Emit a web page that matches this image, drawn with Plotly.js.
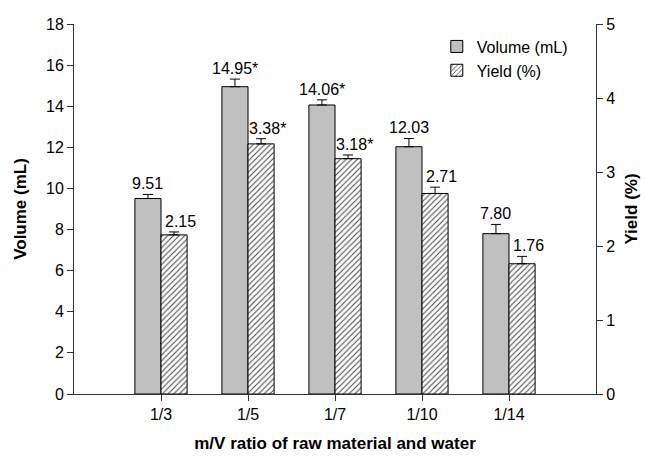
<!DOCTYPE html>
<html>
<head>
<meta charset="utf-8">
<script src="https://cdn.plot.ly/plotly-3.0.1.min.js"></script>
<style>html,body{margin:0;padding:0;background:#fff;}#chart{width:646px;height:460px;}</style>
</head>
<body>
<div id="chart"></div>
<script>
var categories = ["1/3", "1/5", "1/7", "1/10", "1/14"];
var volume = [9.51, 14.95, 14.06, 12.03, 7.80];
var volumeErr = [0.2, 0.37, 0.25, 0.4, 0.45];
var volumeLabels = ["9.51", "14.95*", "14.06*", "12.03", "7.80"];
var yieldPct = [2.15, 3.38, 3.18, 2.71, 1.76];
var yieldErr = [0.04, 0.07, 0.05, 0.085, 0.1];
var yieldLabels = ["2.15", "3.38*", "3.18*", "2.71", "1.76"];

var xpos = categories.map(function(c, i){ return i; });
var fam = "Liberation Sans, Arial, sans-serif";
var tickFont = {family: fam, size: 16, color: "#000"};
var labFont = {family: fam, size: 16, color: "#000"};
var titleFont = {family: fam, size: 17, color: "#000"};

var traces = [
  {
    type: "bar", name: "Volume (mL)", x: xpos, y: volume,
    width: 0.3, offset: -0.3, yaxis: "y",
    marker: {color: "#c0c0c0", line: {color: "#000", width: 1}},
    error_y: {type: "data", array: volumeErr, arrayminus: volume.map(function(){return 0;}), color: "#000", thickness: 1, width: 5}
  },
  {
    type: "bar", name: "Yield (%)", x: xpos, y: yieldPct,
    width: 0.3, offset: 0, yaxis: "y2",
    marker: {color: "#fff", line: {color: "#000", width: 1},
      pattern: {shape: "/", fgcolor: "#444", bgcolor: "#fff", size: 4, solidity: 0.25}},
    error_y: {type: "data", array: yieldErr, arrayminus: yieldPct.map(function(){return 0;}), color: "#000", thickness: 1, width: 5}
  }
];

var annotations = [];
xpos.forEach(function(x, i){
  annotations.push({x: x - 0.15, y: volume[i] + volumeErr[i], xref: "x", yref: "y",
    text: volumeLabels[i], showarrow: false, yanchor: "bottom", xanchor: "center", yshift: 0, font: labFont});
  annotations.push({x: x + 0.15, y: yieldPct[i] + yieldErr[i], xref: "x", yref: "y2",
    text: yieldLabels[i], showarrow: false, yanchor: "bottom", xanchor: "center", xshift: 6, yshift: 0, font: labFont});
});

var layout = {
  width: 646, height: 460,
  margin: {l: 74, r: 50, t: 24, b: 66},
  paper_bgcolor: "#fff", plot_bgcolor: "#fff",
  font: tickFont,
  showlegend: true,
  legend: {x: 0.695, y: 0.985, xanchor: "left", yanchor: "top", bgcolor: "rgba(0,0,0,0)", font: tickFont, tracegroupgap: 0},
  xaxis: {
    range: [-1, 5], tickmode: "array", tickvals: xpos, ticktext: categories,
    showline: true, linecolor: "#333", linewidth: 1, ticks: "outside", ticklen: 6, tickcolor: "#333",
    showgrid: false, zeroline: false, tickfont: tickFont,
    title: {text: "<b>m/V ratio of raw material and water</b>", font: titleFont, standoff: 14}
  },
  yaxis: {
    range: [0, 18], dtick: 2, showline: true, linecolor: "#333", linewidth: 1,
    ticks: "outside", ticklen: 6, tickcolor: "#333", showgrid: false, zeroline: false, tickfont: tickFont,
    title: {text: "<b>Volume (mL)</b>", font: titleFont, standoff: 15}
  },
  yaxis2: {
    range: [0, 5], dtick: 1, overlaying: "y", side: "right", showline: true, linecolor: "#333", linewidth: 1,
    ticks: "outside", ticklen: 6, tickcolor: "#333", showgrid: false, zeroline: false, tickfont: tickFont,
    title: {text: "<b>Yield (%)</b>", font: titleFont, standoff: 10}
  },
  annotations: annotations
};

Plotly.newPlot("chart", traces, layout, {staticPlot: true, displayModeBar: false});
</script>
</body>
</html>
